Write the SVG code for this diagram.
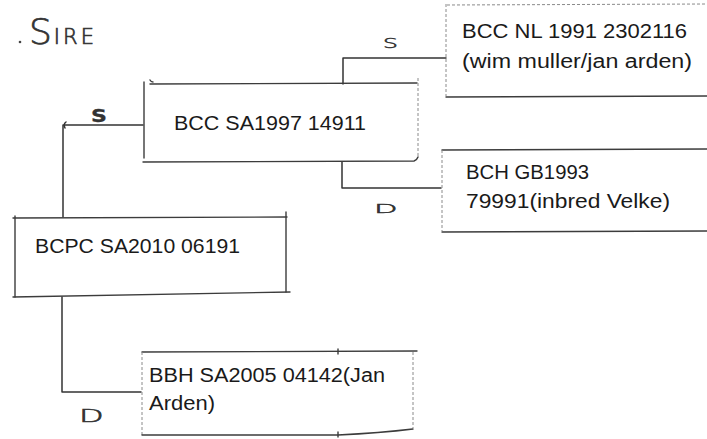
<svg xmlns="http://www.w3.org/2000/svg" width="707" height="439" viewBox="0 0 707 439">
  <style>
    .edge { fill: none; stroke: #3c3c3c; stroke-width: 1.4; stroke-linecap: round; stroke-linejoin: round; }
    .faint { fill: none; stroke: #8a8a8a; stroke-width: 1; stroke-dasharray: 3 2; }
    .conn { fill: none; stroke: #333; stroke-width: 1.5; stroke-linecap: round; stroke-linejoin: round; }
    .lbl { font-family: "Liberation Sans", Arial, sans-serif; font-size: 20px; fill: #1a1a1a; }
    .hand { font-family: "DejaVu Sans", "Liberation Sans", sans-serif; fill: #333; font-weight: 300; stroke: #333; stroke-width: 0.7; }
    .hand.bold { font-weight: bold; stroke-width: 0.3; }
  </style>
  <rect width="707" height="439" fill="#ffffff"/>

  <g id="title">
    <circle cx="20" cy="42" r="1.3" fill="#444"/>
    <text class="hand" x="29" y="44" font-size="36">S<tspan font-size="21" dx="2" letter-spacing="3">IRE</tspan></text>
  </g>

  <g id="connectors">
    <!-- BCPC to BCC SA1997 (S) -->
    <path class="conn" d="M63 217 L63 125 L143 125"/>
    <path class="conn" d="M66 122 Q63 124 65 128"/>
    <text class="hand bold" x="0" y="0" font-size="17" transform="translate(91 122) scale(1.3 1.05)">S</text>
    <!-- BCPC to BBH (D) -->
    <path class="conn" d="M62 297 L62 392 L141 392"/>
    <text class="hand" x="0" y="0" font-size="20" transform="translate(79 422) scale(1.6 0.85)">D</text>
    <!-- BCC SA1997 to BCC NL (S) -->
    <path class="conn" d="M343 84 L343 58 L446 58"/>
    <text class="hand" x="0" y="0" font-size="18" transform="translate(383 48) scale(1.3 0.75)">S</text>
    <!-- BCC SA1997 to BCH (D) -->
    <path class="conn" d="M342 162 L342 188 L441 188"/>
    <text class="hand" x="0" y="0" font-size="18" transform="translate(374 213) scale(1.7 0.72)">D</text>
  </g>

  <g id="node-bcpc">
    <path class="edge" d="M13 218 L287 217"/>
    <path class="edge" d="M15 216 L15 297"/>
    <path class="edge" d="M286 212 L286 292"/>
    <path class="edge" d="M13 297 L290 292"/>
    <text class="lbl" x="35" y="253" textLength="205" lengthAdjust="spacingAndGlyphs">BCPC SA2010 06191</text>
  </g>

  <g id="node-bcc-sa">
    <path class="edge" d="M150 84 L417 83"/>
    <path class="edge" d="M144 82 L144 158"/>
    <path class="faint" d="M418 78 L418 158"/>
    <path class="edge" d="M143 162 L414 161 Q417 160 418 157"/>
    <path class="edge" d="M150 80 Q151 82 153 82"/>
    <text class="lbl" x="174" y="130" textLength="192" lengthAdjust="spacingAndGlyphs">BCC SA1997 14911</text>
  </g>

  <g id="node-bcc-nl">
    <path class="faint" d="M447 5 L707 4"/>
    <path class="faint" d="M446 4 L446 96"/>
    <path class="edge" d="M446 97 L707 96"/>
    <text class="lbl" x="462" y="38" textLength="225" lengthAdjust="spacingAndGlyphs">BCC NL 1991 2302116</text>
    <text class="lbl" x="462" y="68" textLength="230" lengthAdjust="spacingAndGlyphs">(wim muller/jan arden)</text>
  </g>

  <g id="node-bch">
    <path class="edge" d="M442 150 L707 149"/>
    <path class="faint" d="M442 150 L442 231"/>
    <path class="edge" d="M442 232 L707 231"/>
    <text class="lbl" x="466" y="179" textLength="123" lengthAdjust="spacingAndGlyphs">BCH GB1993</text>
    <text class="lbl" x="466" y="208" textLength="204" lengthAdjust="spacingAndGlyphs">79991(inbred Velke)</text>
  </g>

  <g id="node-bbh">
    <path class="edge" d="M142 352 L417 351"/>
    <path class="edge" d="M338 349 L338 354"/>
    <path class="faint" d="M142 352 L142 435"/>
    <path class="faint" d="M413 352 L413 428"/>
    <path class="edge" d="M142 435 L338 435 Q380 433 413 429"/>
    <path class="edge" d="M338 432 L338 437"/>
    <text class="lbl" x="149" y="382" textLength="236" lengthAdjust="spacingAndGlyphs">BBH SA2005 04142(Jan</text>
    <text class="lbl" x="149" y="410" textLength="66" lengthAdjust="spacingAndGlyphs">Arden)</text>
  </g>
</svg>
